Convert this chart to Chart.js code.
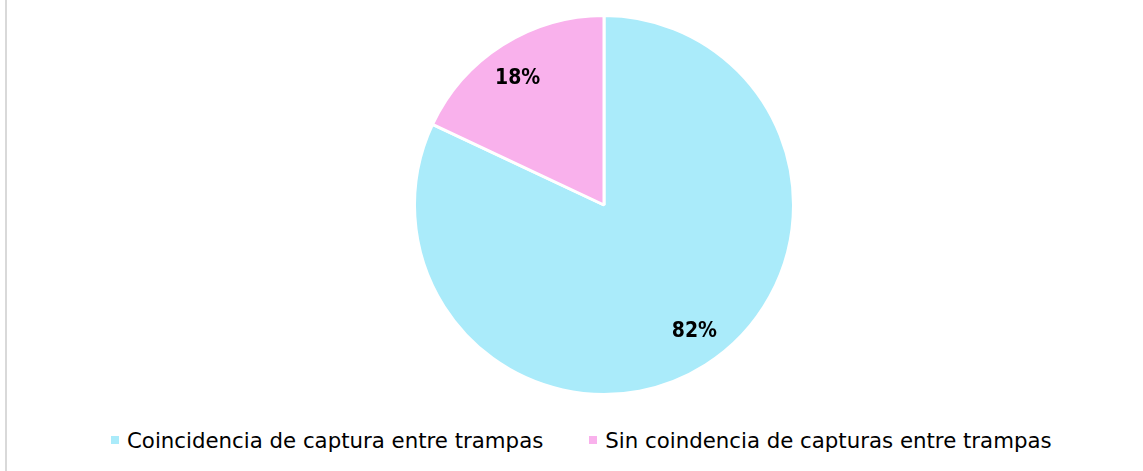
<!DOCTYPE html>
<html>
<head>
<meta charset="utf-8">
<script src="https://cdn.jsdelivr.net/npm/chart.js@4/dist/chart.umd.min.js"></script>
<style>
  html, body { margin: 0; padding: 0; background: #fff; }
  #wrap { position: relative; width: 1143px; height: 471px; overflow: hidden; }
  #frame { position: absolute; left: 5px; top: 0; width: 2px; height: 471px; background: #d9d9d9; }
  #chartBox { position: absolute; left: 0; top: 0; width: 1143px; height: 410px; }
  #legend { position: absolute; top: 422px; left: 111px; height: 36px; display: flex; align-items: center;
            font-family: "DejaVu Sans", sans-serif; font-size: 21.3px; color: #000; white-space: nowrap; }
  .item { display: flex; align-items: center; }
  .sw { width: 8px; height: 8px; margin-right: 8px; }
</style>
</head>
<body>
<div id="wrap">
  <div id="frame"></div>
  <div id="chartBox"><canvas id="c"></canvas></div>
  <div id="legend"></div>
</div>
<script>
const categories = ["Coincidencia de captura entre trampas", "Sin coindencia de capturas entre trampas"];
const values = [82, 18];
const valueLabels = ["82%", "18%"];
const colors = ["#aaebfa", "#f9b1ec"];

const labelPlugin = {
  id: 'sliceLabels',
  afterDatasetsDraw(chart) {
    const ctx = chart.ctx;
    const meta = chart.getDatasetMeta(0);
    ctx.save();
    ctx.font = 'bold 21px "DejaVu Sans Condensed", "DejaVu Sans", sans-serif';
    ctx.fillStyle = '#000';
    ctx.textAlign = 'center';
    ctx.textBaseline = 'middle';
    meta.data.forEach((arc, i) => {
      const p = arc.getProps(['x','y','startAngle','endAngle','outerRadius'], true);
      const mid = (p.startAngle + p.endAngle) / 2 - 2.5 * Math.PI / 180;
      const r = p.outerRadius * 0.815;
      ctx.fillText(valueLabels[i], p.x + Math.cos(mid) * r + 2, p.y + Math.sin(mid) * r);
    });
    ctx.restore();
  }
};

new Chart(document.getElementById('c'), {
  type: 'pie',
  data: {
    labels: categories,
    datasets: [{
      data: values,
      backgroundColor: colors,
      borderColor: '#ffffff',
      borderWidth: 3
    }]
  },
  options: {
    responsive: true,
    maintainAspectRatio: false,
    animation: false,
    rotation: 0,
    layout: { padding: { top: 14, bottom: 14, left: 65, right: 0 } },
    plugins: { legend: { display: false }, tooltip: { enabled: false } }
  },
  plugins: [labelPlugin]
});

const leg = document.getElementById('legend');
categories.forEach((name, i) => {
  const it = document.createElement('div');
  it.className = 'item';
  if (i > 0) it.style.marginLeft = '46px';
  const sw = document.createElement('span');
  sw.className = 'sw';
  sw.style.background = colors[i];
  const tx = document.createElement('span');
  tx.textContent = name;
  it.appendChild(sw); it.appendChild(tx);
  leg.appendChild(it);
});
</script>
</body>
</html>
